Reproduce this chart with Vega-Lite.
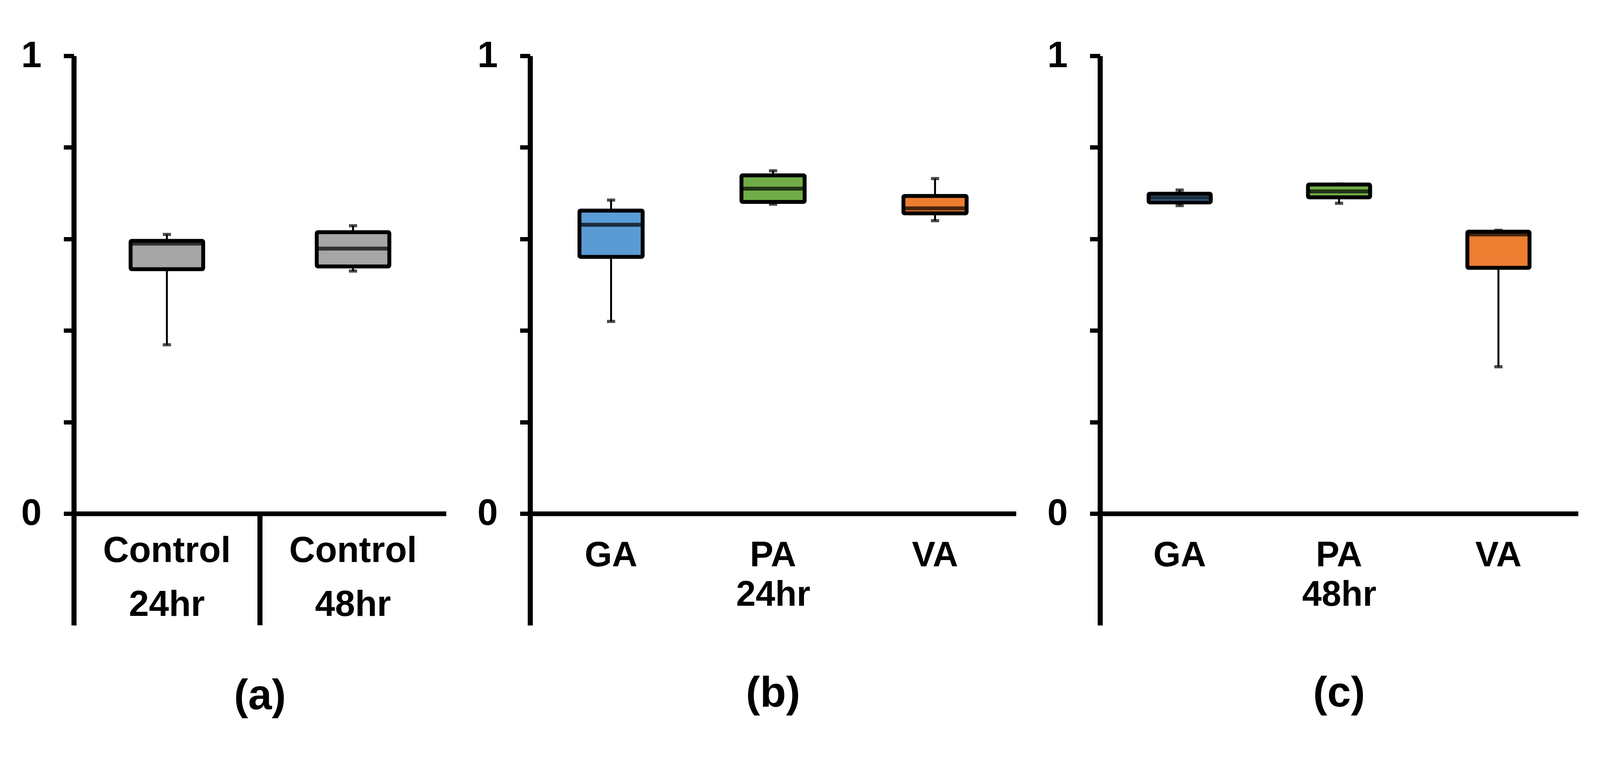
{
  "$schema": "https://vega.github.io/schema/vega-lite/v6.json",
  "background": "white",
  "padding": {"left": 53, "top": 96, "right": 10, "bottom": 10},
  "bounds": "flush",
  "spacing": 215,
  "datasets": {
    "boxes": [
      {"panel": "a", "agent": "Control", "cat": "Control|24hr", "lower": 0.369, "q1": 0.534, "median": 0.590, "q3": 0.596, "upper": 0.610},
      {"panel": "a", "agent": "Control", "cat": "Control|48hr", "lower": 0.530, "q1": 0.540, "median": 0.579, "q3": 0.615, "upper": 0.629},
      {"panel": "b", "agent": "GA", "cat": "GA", "lower": 0.420, "q1": 0.561, "median": 0.631, "q3": 0.662, "upper": 0.685},
      {"panel": "b", "agent": "PA", "cat": "PA", "lower": 0.676, "q1": 0.681, "median": 0.710, "q3": 0.739, "upper": 0.749},
      {"panel": "b", "agent": "VA", "cat": "VA", "lower": 0.640, "q1": 0.656, "median": 0.667, "q3": 0.694, "upper": 0.732},
      {"panel": "c", "agent": "GA", "cat": "GA", "lower": 0.673, "q1": 0.680, "median": 0.690, "q3": 0.699, "upper": 0.707},
      {"panel": "c", "agent": "PA", "cat": "PA", "lower": 0.678, "q1": 0.691, "median": 0.704, "q3": 0.719, "upper": 0.720},
      {"panel": "c", "agent": "VA", "cat": "VA", "lower": 0.321, "q1": 0.537, "median": 0.610, "q3": 0.616, "upper": 0.619}
    ]
  },
  "config": {
    "view": {"stroke": null},
    "font": "Liberation Sans",
    "axis": {"grid": false, "domainColor": "black", "tickColor": "black", "labelColor": "black", "titleColor": "black", "labelFontWeight": "bold", "titleFontWeight": "bold", "labelFont": "Liberation Sans", "titleFont": "Liberation Sans"},
    "axisY": {"domainWidth": 13, "tickWidth": 11, "tickSize": 26, "labelFontSize": 94, "labelPadding": 57, "title": null},
    "axisX": {"domainWidth": 12, "ticks": false, "labelAngle": 0, "labelLimit": 0, "offset": -286},
    "title": {"font": "Liberation Sans", "fontWeight": "bold", "fontSize": 109, "color": "black", "orient": "bottom", "anchor": "middle", "frame": "group", "offset": 122}
  },
  "hconcat": [
    {
      "width": 953,
      "height": 1458,
      "title": {"text": "(a)"},
      "data": {"name": "boxes"},
      "transform": [{"filter": "datum.panel === 'a'"}],
      "encoding": {
        "x": {"field": "cat", "type": "nominal", "scale": {"type": "band", "paddingInner": 0, "paddingOuter": 0},
              "axis": {"title": null, "labelFontSize": 92, "labelPadding": 50, "labelLineHeight": 138, "labelExpr": "split(datum.label, '|')"}}
      },
      "layer": [
        {"mark": {"type": "rule", "color": "black", "strokeWidth": 5},
         "encoding": {"y": {"field": "lower", "type": "quantitative", "scale": {"domain": [-0.2436, 1], "nice": false, "zero": false},
                            "axis": {"values": [0, 0.2, 0.4, 0.6, 0.8, 1], "labelExpr": "datum.value === 0 ? '0' : (datum.value === 1 ? '1' : '')"}},
                      "y2": {"field": "upper"}}},
        {"mark": {"type": "tick", "color": "black", "size": 21, "thickness": 8}, "encoding": {"y": {"field": "lower", "type": "quantitative"}}},
        {"mark": {"type": "tick", "color": "black", "size": 21, "thickness": 8}, "encoding": {"y": {"field": "upper", "type": "quantitative"}}},
        {"mark": {"type": "bar", "stroke": "black", "strokeWidth": 10, "width": {"band": 0.39}, "cornerRadius": 3},
         "encoding": {"y": {"field": "q1", "type": "quantitative"}, "y2": {"field": "q3"},
                      "color": {"field": "agent", "type": "nominal", "legend": null, "scale": {"domain": ["Control", "GA", "PA", "VA"], "range": ["#a6a6a6", "#5b9bd5", "#70ad47", "#ed7d31"]}}}},
        {"mark": {"type": "tick", "color": "black", "size": 186, "thickness": 10}, "encoding": {"y": {"field": "median", "type": "quantitative"}}},
        {"data": {"values": [{"cat": "Control|48hr"}]},
         "mark": {"type": "rule", "color": "black", "strokeWidth": 13},
         "encoding": {"x": {"field": "cat", "type": "nominal", "bandPosition": 0}, "y": {"datum": 0}, "y2": {"datum": -0.2436}}}
      ]
    },
    {
      "width": 1244,
      "height": 1458,
      "title": {"text": "(b)"},
      "data": {"name": "boxes"},
      "transform": [{"filter": "datum.panel === 'b'"}],
      "encoding": {
        "x": {"field": "cat", "type": "nominal", "scale": {"type": "band", "paddingInner": 0, "paddingOuter": 0},
              "axis": {"title": "24hr", "labelFontSize": 90, "labelPadding": 63, "titleFontSize": 90, "titlePadding": 12}}
      },
      "layer": [
        {"mark": {"type": "rule", "color": "black", "strokeWidth": 5},
         "encoding": {"y": {"field": "lower", "type": "quantitative", "scale": {"domain": [-0.2436, 1], "nice": false, "zero": false},
                            "axis": {"values": [0, 0.2, 0.4, 0.6, 0.8, 1], "labelExpr": "datum.value === 0 ? '0' : (datum.value === 1 ? '1' : '')"}},
                      "y2": {"field": "upper"}}},
        {"mark": {"type": "tick", "color": "black", "size": 21, "thickness": 8}, "encoding": {"y": {"field": "lower", "type": "quantitative"}}},
        {"mark": {"type": "tick", "color": "black", "size": 21, "thickness": 8}, "encoding": {"y": {"field": "upper", "type": "quantitative"}}},
        {"mark": {"type": "bar", "stroke": "black", "strokeWidth": 10, "width": {"band": 0.39}, "cornerRadius": 3},
         "encoding": {"y": {"field": "q1", "type": "quantitative"}, "y2": {"field": "q3"},
                      "color": {"field": "agent", "type": "nominal", "legend": null, "scale": {"domain": ["Control", "GA", "PA", "VA"], "range": ["#a6a6a6", "#5b9bd5", "#70ad47", "#ed7d31"]}}}},
        {"mark": {"type": "tick", "color": "black", "size": 162, "thickness": 10}, "encoding": {"y": {"field": "median", "type": "quantitative"}}}
      ]
    },
    {
      "width": 1224,
      "height": 1458,
      "title": {"text": "(c)"},
      "data": {"name": "boxes"},
      "transform": [{"filter": "datum.panel === 'c'"}],
      "encoding": {
        "x": {"field": "cat", "type": "nominal", "scale": {"type": "band", "paddingInner": 0, "paddingOuter": 0},
              "axis": {"title": "48hr", "labelFontSize": 90, "labelPadding": 63, "titleFontSize": 90, "titlePadding": 12}}
      },
      "layer": [
        {"mark": {"type": "rule", "color": "black", "strokeWidth": 5},
         "encoding": {"y": {"field": "lower", "type": "quantitative", "scale": {"domain": [-0.2436, 1], "nice": false, "zero": false},
                            "axis": {"values": [0, 0.2, 0.4, 0.6, 0.8, 1], "labelExpr": "datum.value === 0 ? '0' : (datum.value === 1 ? '1' : '')"}},
                      "y2": {"field": "upper"}}},
        {"mark": {"type": "tick", "color": "black", "size": 21, "thickness": 8}, "encoding": {"y": {"field": "lower", "type": "quantitative"}}},
        {"mark": {"type": "tick", "color": "black", "size": 21, "thickness": 8}, "encoding": {"y": {"field": "upper", "type": "quantitative"}}},
        {"mark": {"type": "bar", "stroke": "black", "strokeWidth": 10, "width": {"band": 0.39}, "cornerRadius": 3},
         "encoding": {"y": {"field": "q1", "type": "quantitative"}, "y2": {"field": "q3"},
                      "color": {"field": "agent", "type": "nominal", "legend": null, "scale": {"domain": ["Control", "GA", "PA", "VA"], "range": ["#a6a6a6", "#5b9bd5", "#70ad47", "#ed7d31"]}}}},
        {"mark": {"type": "tick", "color": "black", "size": 159, "thickness": 10}, "encoding": {"y": {"field": "median", "type": "quantitative"}}}
      ]
    }
  ]
}
